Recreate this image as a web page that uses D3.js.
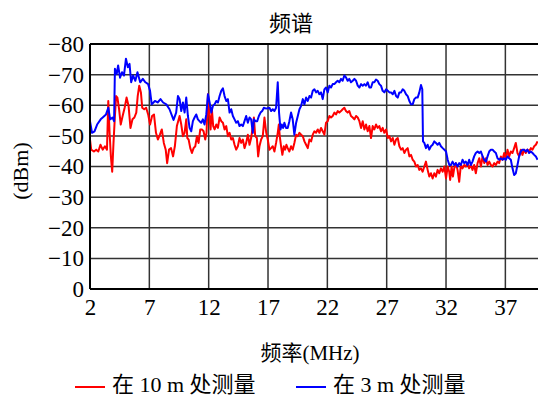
<!DOCTYPE html>
<html>
<head>
<meta charset="utf-8">
<script src="https://cdn.jsdelivr.net/npm/d3@7"></script>
<style>
  body { margin: 0; background: #fff; }
  text { font-family: "Liberation Serif", "Noto Sans CJK SC", serif; fill: #000; }
</style>
</head>
<body>
<script>
// spectrum measured at 10 m (red) and 3 m (blue), [MHz, dBm]
let red10m = [
  [2.0,-48.8],[2.1,-45.5],[2.33,-44.9],[2.52,-45.5],[2.7,-44.9],[2.88,-47.1],[3.07,-45.5],[3.26,-46.6],[3.43,-45.5],
  [3.54,-61.4],[3.65,-51],[3.76,-43.3],[3.87,-38.3],[3.98,-47.7],[4.1,-56.5],[4.2,-63],[4.31,-62.5],[4.45,-58.7],
  [4.59,-53.7],[4.75,-56.5],[4.92,-59.2],[5.08,-62.5],[5.25,-59.8],[5.41,-52.6],[5.58,-55.4],[5.74,-56],[5.9,-57.6],
  [6.02,-63],[6.15,-66.4],[6.29,-64.2],[6.4,-59.2],[6.57,-58.7],[6.73,-59.2],[6.9,-57],[7.06,-53.7],[7.23,-56.5],
  [7.39,-57],[7.56,-51],[7.72,-48.8],[7.89,-50.4],[8.05,-52.1],[8.22,-47.7],[8.38,-45.5],[8.5,-41.1],[8.66,-45.5],
  [8.83,-46],[9.0,-43.3],[9.15,-46.6],[9.32,-53.2],[9.43,-54.8],[9.55,-56.5],[9.69,-53.7],[9.83,-49.9],[9.97,-51],
  [10.11,-55.4],[10.2,-49.3],[10.31,-48.8],[10.45,-46],[10.59,-44.4],[10.73,-46],[10.87,-46.6],[11.01,-49.9],
  [11.15,-47.7],[11.29,-52.1],[11.43,-52.1],[11.57,-51.5],[11.71,-48.8],[11.82,-51],[11.94,-63.6],[12.05,-57],
  [12.16,-52.1],[12.27,-58.7],[12.38,-53.2],[12.5,-52.1],[12.64,-53.7],[12.78,-52.6],[12.92,-56],[13.06,-54.8],
  [13.2,-54.3],[13.34,-52.1],[13.48,-53.2],[13.62,-49.9],[13.76,-51],[13.9,-48.8],[14.04,-49.3],[14.18,-47.1],
  [14.32,-45.5],[14.46,-46.6],[14.6,-49.3],[14.74,-47.7],[14.88,-48.8],[15.02,-46],[15.16,-47.7],[15.3,-50.4],
  [15.44,-47.1],[15.58,-49.3],[15.72,-53.2],[15.81,-56],[15.92,-49.9],[16.06,-49.3],[16.17,-43.3],[16.28,-46.6],
  [16.42,-48.8],[16.56,-49.9],[16.7,-56],[16.85,-51],[16.98,-48.8],[17.12,-45.5],[17.26,-46],[17.4,-46.6],
  [17.54,-44.9],[17.68,-47.7],[17.82,-51],[17.91,-53.7],[17.99,-49.9],[18.1,-46.6],[18.21,-43.8],[18.33,-46.6],
  [18.44,-45.5],[18.55,-47.1],[18.66,-46],[18.8,-44.9],[18.94,-46.6],[19.08,-45.5],[19.22,-47.7],[19.37,-50.4],
  [19.51,-49.9],[19.65,-51],[19.79,-50.4],[19.93,-49.9],[20.07,-48.2],[20.21,-47.1],[20.35,-46],[20.49,-48.8],
  [20.63,-48.2],[20.77,-50.4],[20.91,-51.5],[21.05,-51],[21.19,-52.1],[21.33,-51],[21.47,-52.6],[21.61,-51.5],
  [21.75,-50.4],[21.89,-54.3],[22.03,-54.8],[22.17,-56.5],[22.31,-56],[22.45,-56.5],[22.59,-57.6],[22.73,-57],
  [22.87,-58.1],[23.01,-57.6],[23.15,-58.1],[23.29,-58.7],[23.43,-59.2],[23.57,-58.1],[23.71,-57.6],[23.85,-58.1],
  [23.99,-56.5],[24.14,-56],[24.28,-55.4],[24.42,-56.5],[24.56,-56],[24.7,-54.8],[24.84,-52.6],[24.98,-54.8],
  [25.12,-52.1],[25.26,-53.7],[25.4,-51.5],[25.54,-53.2],[25.68,-49.3],[25.82,-53.2],[25.96,-52.1],[26.1,-53.7],
  [26.24,-52.6],[26.38,-53.2],[26.52,-51.5],[26.66,-52.6],[26.8,-51],[26.95,-52.1],[27.09,-49.3],[27.23,-49.9],
  [27.37,-48.2],[27.51,-49.3],[27.65,-47.1],[27.79,-48.8],[27.93,-49.3],[28.07,-46.6],[28.21,-45.5],[28.35,-46],
  [28.49,-44.4],[28.63,-45.5],[28.77,-46],[28.91,-43.3],[29.05,-43.8],[29.19,-42.2],[29.33,-41.6],[29.47,-40],
  [29.61,-40.5],[29.75,-38.9],[29.89,-39.4],[30.03,-38.3],[30.17,-40],[30.31,-41.6],[30.45,-38.9],[30.59,-36.7],
  [30.73,-37.8],[30.87,-36.1],[31.01,-37.8],[31.15,-36.7],[31.29,-38.9],[31.43,-37.8],[31.57,-39.4],[31.72,-38.3],
  [31.86,-40],[32.0,-36.1],[32.14,-40],[32.27,-38.3],[32.35,-35.6],[32.47,-40],[32.58,-36.7],[32.69,-39.4],
  [32.83,-41.1],[32.97,-38.9],[33.11,-35],[33.25,-40.5],[33.39,-39.4],[33.53,-40.5],[33.67,-40],[33.81,-41.1],
  [33.95,-39.4],[34.09,-40.5],[34.23,-38.9],[34.37,-40.5],[34.51,-37.8],[34.66,-41.1],[34.8,-42.7],[34.94,-40],
  [35.08,-43.3],[35.22,-41.1],[35.36,-42.7],[35.5,-40.5],[35.64,-41.6],[35.78,-40.5],[35.92,-40],[36.06,-41.1],
  [36.2,-40.5],[36.34,-41.6],[36.48,-41.1],[36.62,-43.3],[36.76,-42.2],[36.9,-44.4],[37.04,-42.7],[37.18,-45.5],
  [37.32,-43.3],[37.46,-44.9],[37.6,-44.4],[37.74,-46],[37.88,-47.7],[38.02,-44.4],[38.16,-43.3],[38.3,-45.5],
  [38.44,-43.8],[38.58,-45.5],[38.72,-44.4],[38.86,-45.5],[39.0,-44.9],[39.15,-46],[39.29,-45.5],[39.43,-46.6],
  [39.57,-47.1],[39.71,-48.2]
];
let blue3m = [
  [2.0,-54.8],[2.17,-51],[2.38,-51.5],[2.6,-53.7],[2.9,-55.4],[3.07,-56],[3.35,-57],[3.54,-59.2],[3.7,-55.4],
  [3.9,-56],[4.03,-54.8],[4.1,-71.9],[4.25,-70.2],[4.37,-73],[4.53,-69],[4.7,-70.8],[4.86,-69.7],[5.03,-75.2],
  [5.19,-72.4],[5.33,-73.5],[5.47,-67.5],[5.63,-69.7],[5.82,-68],[6.0,-70.8],[6.23,-67.5],[6.45,-68.6],[6.67,-67.5],
  [6.9,-66.9],[7.06,-64.7],[7.2,-60.3],[7.47,-61.4],[7.7,-60.9],[7.94,-62],[8.16,-60.9],[8.43,-60.3],[8.7,-58.7],
  [9.04,-55.2],[9.26,-57.6],[9.41,-63],[9.55,-62],[9.69,-58.1],[9.83,-60.9],[9.97,-57.6],[10.11,-62.5],[10.25,-56.5],
  [10.39,-52.6],[10.53,-51.5],[10.67,-54.8],[10.81,-56],[10.95,-57],[11.09,-55.4],[11.23,-54.8],[11.37,-54.3],
  [11.51,-55.4],[11.65,-53.7],[11.8,-57],[11.94,-63.6],[12.08,-60.9],[12.22,-57.6],[12.36,-59.8],[12.5,-60.3],
  [12.64,-61.4],[12.78,-60.9],[12.92,-63],[13.06,-64.7],[13.2,-65.5],[13.34,-63],[13.48,-61.4],[13.62,-62],
  [13.76,-57.6],[13.9,-58.7],[14.04,-56.5],[14.18,-55.4],[14.32,-54.3],[14.46,-54.8],[14.6,-53.2],[14.74,-53.7],
  [14.88,-53.2],[15.02,-54.8],[15.16,-56.5],[15.3,-54.3],[15.44,-56],[15.58,-55.4],[15.72,-51],[15.81,-55.4],
  [15.95,-54.8],[16.09,-54.8],[16.23,-56.5],[16.37,-57.6],[16.51,-58.1],[16.65,-59.2],[16.85,-58.9],[17.12,-59.2],
  [17.26,-58.1],[17.4,-58.7],[17.54,-58.1],[17.68,-59.2],[17.82,-67.5],[17.93,-57.6],[18.05,-52.1],[18.16,-53.7],
  [18.27,-52.6],[18.38,-54.3],[18.52,-52.6],[18.66,-52.6],[18.8,-54.8],[18.94,-57.6],[19.08,-55.4],[19.22,-50.4],
  [19.37,-54.3],[19.51,-56.5],[19.65,-58.7],[19.79,-59.8],[19.93,-62],[20.07,-60.3],[20.21,-62.5],[20.35,-61.4],
  [20.49,-63],[20.63,-62.5],[20.77,-64.7],[20.91,-65.2],[21.05,-64.2],[21.19,-64.7],[21.33,-63.6],[21.47,-64.2],
  [21.61,-62],[21.75,-65.2],[21.89,-65.8],[22.03,-64.2],[22.17,-66.4],[22.31,-65.8],[22.45,-66.9],[22.59,-66.9],
  [22.73,-67.5],[22.87,-68],[23.01,-67.5],[23.15,-68.6],[23.29,-68],[23.43,-69.7],[23.57,-69.1],[23.71,-68],
  [23.85,-68.6],[23.99,-67.5],[24.14,-68],[24.28,-68.6],[24.42,-68],[24.56,-66.4],[24.7,-65.8],[24.84,-66.9],
  [24.98,-66.4],[25.12,-66.9],[25.26,-66.4],[25.4,-67.5],[25.54,-65.8],[25.68,-65.8],[25.82,-67.5],[25.96,-67.5],
  [26.1,-68.4],[26.24,-68],[26.38,-66.9],[26.52,-66.4],[26.66,-64.7],[26.8,-64.2],[26.95,-65.2],[27.09,-64.7],
  [27.23,-64.2],[27.37,-64.2],[27.51,-63.6],[27.65,-64.7],[27.79,-63],[27.93,-62.5],[28.07,-64.2],[28.21,-64.2],
  [28.35,-65.2],[28.49,-64.7],[28.63,-63.6],[28.77,-63],[28.91,-61.4],[29.05,-60.3],[29.19,-60.3],[29.33,-62],
  [29.47,-62.5],[29.61,-62.5],[29.75,-64.2],[29.89,-66.6],[30.0,-65.2],[30.06,-48.2],[30.17,-47.7],[30.31,-46],
  [30.45,-47.1],[30.59,-45.5],[30.73,-46.6],[30.87,-47.1],[31.01,-48.2],[31.15,-47.7],[31.29,-47.1],[31.43,-47.7],
  [31.57,-46.6],[31.72,-46],[31.86,-45.5],[32.0,-44.9],[32.14,-42.2],[32.28,-40.5],[32.41,-40.5],[32.55,-41.6],
  [32.69,-40.5],[32.83,-41.1],[32.97,-40],[33.11,-41.1],[33.25,-40.5],[33.39,-42.2],[33.53,-41.1],[33.67,-41.6],
  [33.81,-40.5],[33.95,-42.2],[34.09,-40.5],[34.23,-41.6],[34.37,-43.3],[34.51,-44.4],[34.66,-44.9],[34.8,-44.4],
  [34.94,-44.9],[35.08,-43.3],[35.22,-42.2],[35.36,-41.6],[35.5,-43.3],[35.64,-44.9],[35.78,-45.5],[35.92,-45.5],
  [36.06,-44.9],[36.2,-44.4],[36.34,-42.7],[36.48,-42.2],[36.62,-42.7],[36.76,-42.2],[36.9,-42.7],[37.04,-42.2],
  [37.18,-43.3],[37.32,-42.7],[37.46,-42.2],[37.6,-39.4],[37.74,-37.2],[37.88,-37.8],[38.02,-40.5],[38.16,-43.3],
  [38.3,-44.9],[38.44,-45.5],[38.58,-45.5],[38.72,-44.9],[38.86,-45.5],[39.0,-44.4],[39.15,-44.9],[39.29,-44.4],
  [39.43,-43.8],[39.57,-43.3],[39.71,-42.2]
];
let xTicks = [2, 7, 12, 17, 22, 27, 32, 37];
let yTicks = [0, -10, -20, -30, -40, -50, -60, -70, -80];
let seriesNames = ['在 10 m 处测量', '在 3 m 处测量'];
let seriesColors = ['#ff0000', '#0000ff'];

let width = 538, height = 397;
let mLeft = 90, mTop = 44, mRight = 538, mBottom = 289;

let svg = d3.select('body').append('svg').attr('width', width).attr('height', height);

let x = d3.scaleLinear().domain([2, 39.75]).range([mLeft, mRight]);
let y = d3.scaleLinear().domain([0, -80]).range([mBottom, mTop]);

// grid
svg.append('g').selectAll('line').data(xTicks.slice(1)).enter().append('line')
  .attr('x1', d => x(d)).attr('x2', d => x(d))
  .attr('y1', mTop).attr('y2', mBottom)
  .attr('stroke', '#333').attr('stroke-width', 1.5);
svg.append('g').selectAll('line').data(yTicks.slice(1)).enter().append('line')
  .attr('x1', mLeft).attr('x2', mRight)
  .attr('y1', d => y(d)).attr('y2', d => y(d))
  .attr('stroke', '#333').attr('stroke-width', 1.5);

// axes
let xAxis = svg.append('g').attr('transform', 'translate(0,' + mBottom + ')')
  .call(d3.axisBottom(x).tickValues(xTicks).tickSize(0).tickPadding(8).tickFormat(d3.format('d')));
let yAxis = svg.append('g').attr('transform', 'translate(' + mLeft + ',0)')
  .call(d3.axisLeft(y).tickValues(yTicks).tickSize(0).tickPadding(6).tickFormat(d3.format('d')));
[xAxis, yAxis].forEach(a => {
  a.select('.domain').remove();
  a.selectAll('text').attr('font-size', '23px').attr('font-family', '"Liberation Serif", serif');
});
xAxis.selectAll('text').attr('dy', '0.8em');

// data lines
let line = d3.line().x(d => x(d[0])).y(d => y(d[1]));
svg.append('defs').append('clipPath').attr('id', 'plotclip')
  .append('rect').attr('x', mLeft).attr('y', mTop).attr('width', mRight - mLeft).attr('height', mBottom - mTop);
let plot = svg.append('g').attr('clip-path', 'url(#plotclip)');
[red10m, blue3m].forEach((s, i) => {
  plot.append('path').datum(s).attr('d', line)
    .attr('fill', 'none').attr('stroke', seriesColors[i])
    .attr('stroke-width', 2).attr('stroke-linejoin', 'round');
});

// frame
svg.append('line').attr('x1', mLeft).attr('x2', mRight).attr('y1', mTop).attr('y2', mTop)
  .attr('stroke', '#000').attr('stroke-width', 2);
svg.append('line').attr('x1', mLeft).attr('x2', mRight).attr('y1', mBottom).attr('y2', mBottom)
  .attr('stroke', '#000').attr('stroke-width', 2);
svg.append('line').attr('x1', mLeft).attr('x2', mLeft).attr('y1', mTop).attr('y2', mBottom)
  .attr('stroke', '#000').attr('stroke-width', 2);

// titles
svg.append('text').attr('x', 291).attr('y', 31).attr('text-anchor', 'middle')
  .attr('font-size', '22px').text('频谱');
svg.append('text').attr('x', 310).attr('y', 360).attr('text-anchor', 'middle')
  .attr('font-size', '21px').text('频率(MHz)');
svg.append('text').attr('transform', 'translate(28,171) rotate(-90)').attr('text-anchor', 'middle')
  .attr('font-size', '22px').text('(dBm)');

// legend
let legendX = [75, 296];
seriesNames.forEach((name, i) => {
  svg.append('line').attr('x1', legendX[i]).attr('x2', legendX[i] + 30)
    .attr('y1', 387).attr('y2', 387)
    .attr('stroke', seriesColors[i]).attr('stroke-width', 2);
  svg.append('text').attr('x', legendX[i] + 37).attr('y', 392)
    .attr('font-size', '22px').text(name);
});
</script>
</body>
</html>
